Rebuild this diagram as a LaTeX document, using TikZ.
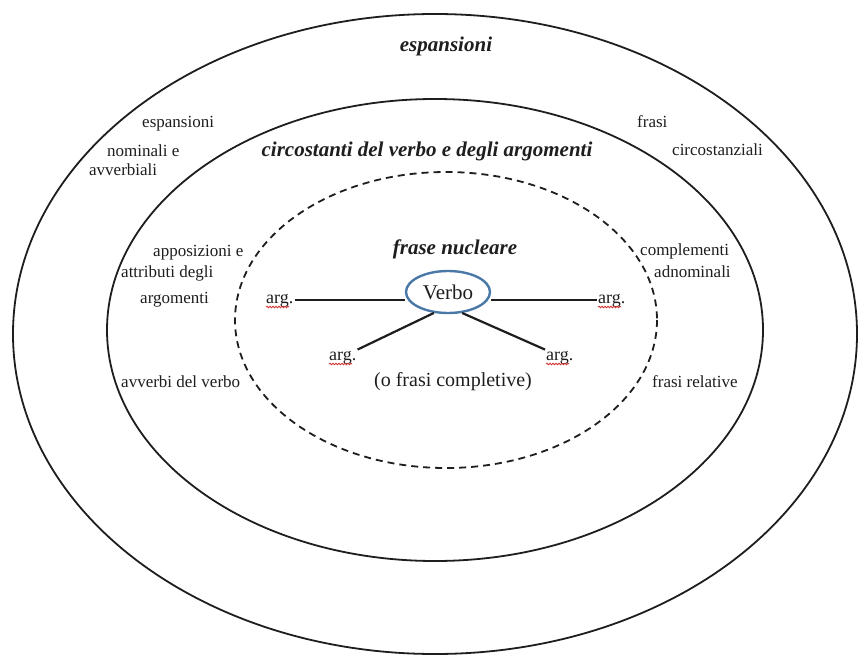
\documentclass[tikz,border=0pt]{standalone}
\usepackage{fontspec}
\setmainfont{Liberation Serif}
\usetikzlibrary{shapes.geometric,decorations.pathmorphing,calc}
\definecolor{ink}{HTML}{1E1E1E}
\definecolor{verboblue}{HTML}{4A79A8}
\definecolor{squigred}{HTML}{D03030}
\begin{document}
\begin{tikzpicture}[x=1pt,y=-1pt,
  ring/.style={draw=ink,line width=1.8pt},
  dashring/.style={draw=ink,line width=1.8pt,dash pattern=on 7pt off 5pt},
  heading/.style={font=\fontsize{21}{24}\selectfont\bfseries\itshape,text=ink,inner sep=0pt,anchor=base},
  lbl/.style={font=\fontsize{17}{19}\selectfont,text=ink,inner sep=0pt,anchor=base west},
  argnode/.style={font=\fontsize{18}{20}\selectfont,text=ink,inner sep=1pt,anchor=base west},
  link/.style={draw=ink,line width=2.2pt},
  squiggle/.style={draw=squigred,line width=0.8pt,decorate,decoration={snake,amplitude=0.8pt,segment length=3pt}}]
\useasboundingbox (0,0) rectangle (858,658);
\fill[white] (0,0) rectangle (858,658);
% rings
\draw[ring] (435,334) ellipse [x radius=422, y radius=320];
\draw[ring] (435,330) ellipse [x radius=328, y radius=231];
\draw[dashring] (446,320) ellipse [x radius=211, y radius=148];
% headings
\node[heading] (hesp) at (446,52) {espansioni};
\node[heading] (hcirc) at (427,156) {circostanti del verbo e degli argomenti};
\node[heading] (hnuc) at (455,254) {frase nucleare};
% outer ring labels
\node[lbl] (l1a) at (142,128) {espansioni};
\node[lbl] (l1b) at (107,156) {nominali e};
\node[lbl] (l1c) at (89,175) {avverbiali};
\node[lbl] (r1a) at (637,128) {frasi};
\node[lbl] (r1b) at (672,155) {circostanziali};
% middle ring labels
\node[lbl] (l2a) at (153,256) {apposizioni e};
\node[lbl] (l2b) at (121,277) {attributi degli};
\node[lbl] (l2c) at (140,303) {argomenti};
\node[lbl] (r2a) at (640,255) {complementi};
\node[lbl] (r2b) at (654,277) {adnominali};
\node[lbl] (l3) at (121,387) {avverbi del verbo};
\node[lbl] (r3) at (652,387) {frasi relative};
% nucleus
\node[draw=verboblue,line width=2.4pt,ellipse,minimum width=84pt,minimum height=42pt,inner sep=0pt,
      font=\fontsize{21}{23}\selectfont,text=ink] (verbo) at (448,292) {Verbo};
\node[argnode] (argL) at (265,303) {arg.};
\node[argnode] (argR) at (597,303) {arg.};
\node[argnode] (argLL) at (328,360) {arg.};
\node[argnode] (argLR) at (545,360) {arg.};
\node[font=\fontsize{20}{22}\selectfont,text=ink,inner sep=0pt,anchor=base] (compl) at (453,386) {(o frasi completive)};
% connectors
\draw[link] (argL.east) -- (argL.east -| verbo.west);
\draw[link] (argR.west -| verbo.east) -- (argR.west);
\draw[link] (verbo.236) -- (argLL.north east);
\draw[link] (verbo.304) -- (argLR.north west);
% spell-check squiggles
\foreach \a in {argL,argR,argLL,argLR}
  \draw[squiggle] ($(\a.base west)+(1,4)$) -- ++(23,0);
\end{tikzpicture}
\end{document}
